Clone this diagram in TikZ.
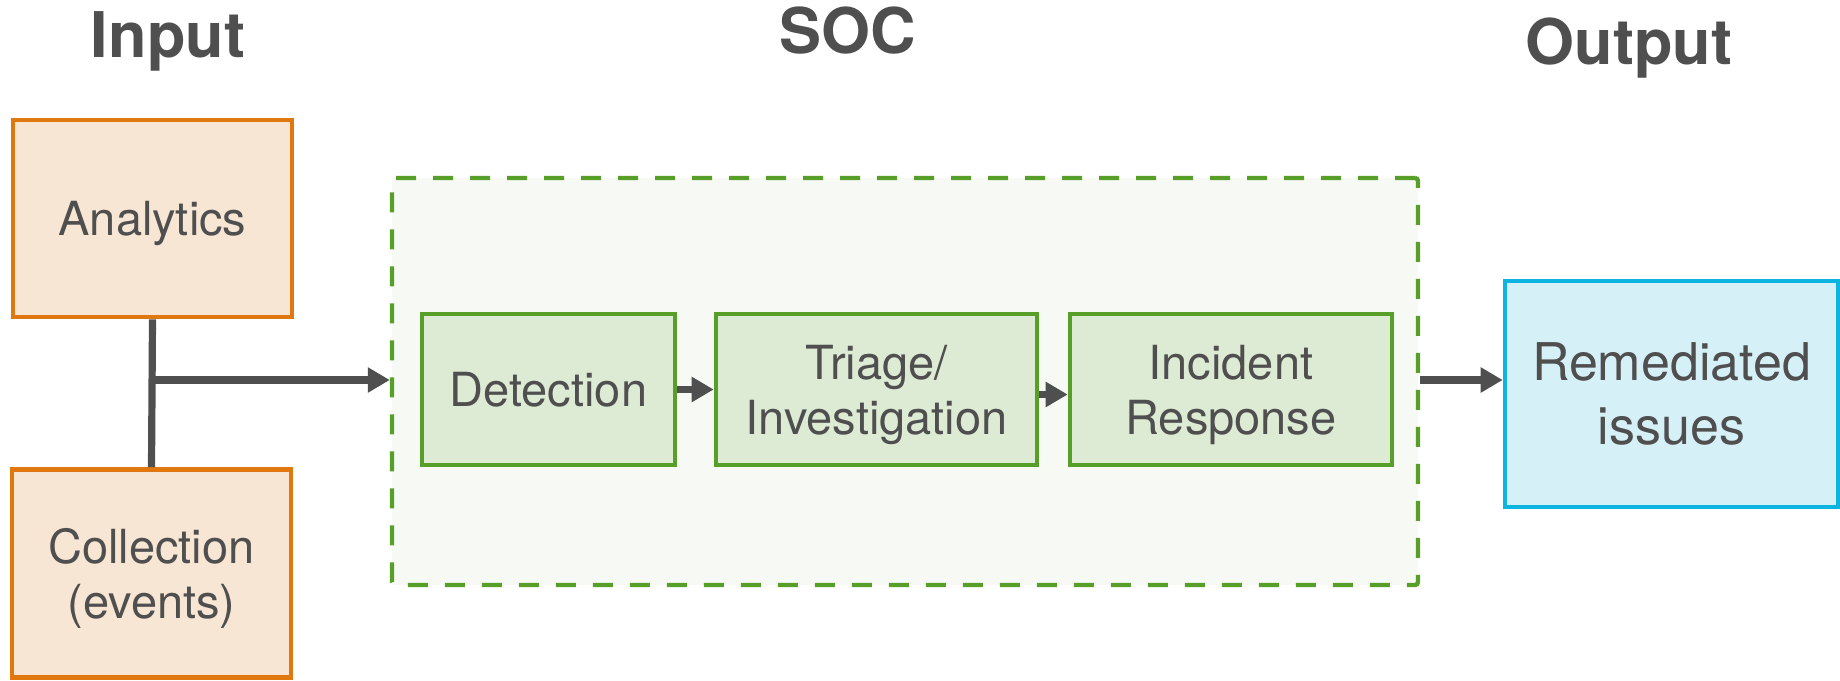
\documentclass[tikz,border=0pt]{standalone}
\usepackage{fontspec}
\setmainfont{TeX Gyre Heros}
\usetikzlibrary{arrows.meta,calc}

\definecolor{ink}{HTML}{4F4F4F}
\definecolor{orangeline}{HTML}{E0770F}
\definecolor{orangefill}{HTML}{F8E6D5}
\definecolor{greenline}{HTML}{589F2A}
\definecolor{greenfill}{HTML}{DDEBD5}
\definecolor{socfill}{HTML}{F7F9F5}
\definecolor{blueline}{HTML}{0BB5E0}
\definecolor{bluefill}{HTML}{D6F0F8}

\begin{document}
\begin{tikzpicture}[x=0.5pt,y=-0.5pt,
  every node/.style={text=ink, inner sep=0pt, align=center},
  bodytext/.style={font=\fontsize{23.5}{27.5}\selectfont, text depth=0pt},
  title/.style={font=\fontsize{31.5}{36}\selectfont\bfseries, anchor=base},
  inbox/.style={bodytext, draw=orangeline, fill=orangefill, line width=2.3pt,
                minimum width=139.5pt},
  stagebox/.style={bodytext, draw=greenline, fill=greenfill, line width=2.3pt,
                   minimum height=75.5pt},
  outbox/.style={font=\fontsize{26}{32}\selectfont, draw=blueline, fill=bluefill,
                 line width=2.3pt, minimum width=166.5pt, minimum height=113pt},
  socbox/.style={draw=greenline, fill=socfill, line width=2.2pt,
                 dash pattern=on 10pt off 8.5pt, rounded corners=1.5pt,
                 minimum width=513pt, minimum height=203.5pt},
  conn/.style={draw=ink, line width=3.6pt},
  arr/.style={conn, -{Triangle[length=11pt,width=12pt]}}
]
\useasboundingbox (0,0) rectangle (1840,680);

% column headings
\node[title] (tin)  at (168,57)  {Input};
\node[title] (tsoc) at (848,54)  {SOC};
\node[title] (tout) at (1629,64) {Output};

% inputs
\node[inbox, minimum height=98.5pt] (ana) at (152.5,218.5) {Analytics};
\node[inbox, minimum height=104pt]  (col) at (151.5,573.5) {Collection\\(events)};

% SOC frame and its stages
\node[socbox] (soc) at (905,381.5) {};
\node[stagebox, minimum width=126.5pt] (det) at (548.5,389.5) {Detection};
\node[stagebox, minimum width=160.5pt] (tri) at (876.5,389.5) {Triage/\\Investigation};
\node[stagebox, minimum width=161pt]   (inc) at (1231,389.5)  {Incident\\Response};

% output
\node[outbox] (rem) at (1671.5,394) {Remediated\\issues};

% connectors
\draw[conn] (ana.south) -- (col.north);
\coordinate (join) at (153,380);
\draw[arr] (join) -- (join -| soc.west);
\draw[arr] (det.east) -- (tri.west);
\draw[arr] ([yshift=-2.5pt]tri.east) -- ([yshift=-2.5pt]inc.west);
\draw[arr] ([yshift=0.75pt]soc.east) -- ([yshift=0.75pt]soc.east -| rem.west);
\end{tikzpicture}
\end{document}
